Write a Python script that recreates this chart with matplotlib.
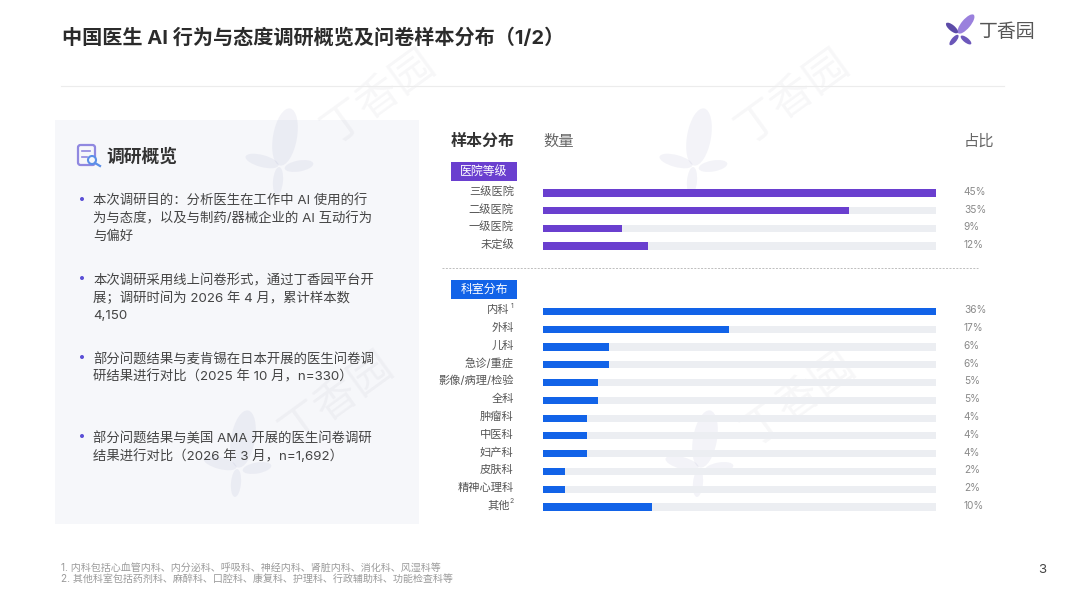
import matplotlib
matplotlib.use("Agg")
import matplotlib.pyplot as plt
from matplotlib.patches import Rectangle, Ellipse, FancyBboxPatch, Circle

plt.rcParams['font.family'] = ['Inter', 'Noto Sans CJK SC', 'DejaVu Sans']

# Data
title = "中国医生 AI 行为与态度调研概览及问卷样本分布（1/2）"
hospital_labels = ["三级医院", "二级医院", "一级医院", "未定级"]
hospital_values = [45, 35, 9, 12]
dept_labels = ["内科", "外科", "儿科", "急诊/重症", "影像/病理/检验", "全科",
               "肿瘤科", "中医科", "妇产科", "皮肤科", "精神心理科", "其他"]
dept_values = [36, 17, 6, 6, 5, 5, 4, 4, 4, 2, 2, 10]
dept_notes = {"内科": "1", "其他": "2"}
bullets = [
    ["本次调研目的：分析医生在工作中 AI 使用的行", "为与态度，以及与制药/器械企业的 AI 互动行为", "与偏好"],
    ["本次调研采用线上问卷形式，通过丁香园平台开", "展；调研时间为 2026 年 4 月，累计样本数", "4,150"],
    ["部分问题结果与麦肯锡在日本开展的医生问卷调", "研结果进行对比（2025 年 10 月，n=330）"],
    ["部分问题结果与美国 AMA 开展的医生问卷调研", "结果进行对比（2026 年 3 月，n=1,692）"],
]
notes = ["1. 内科包括心血管内科、内分泌科、呼吸科、神经内科、肾脏内科、消化科、风湿科等",
         "2. 其他科室包括药剂科、麻醉科、口腔科、康复科、护理科、行政辅助科、功能检查科等"]

W, H = 1067, 600
PURPLE = '#6a3fcf'
BLUE = '#1263e8'
TRACK = '#eceef2'

fig = plt.figure(figsize=(W / 100, H / 100), dpi=100, facecolor='white')

# Page layer in pixel coordinates
page = fig.add_axes([0, 0, 1, 1], zorder=0)
page.set_xlim(0, W)
page.set_ylim(H, 0)
page.axis('off')

page.add_patch(Rectangle((55, 120), 364, 404, facecolor='#f6f7fa', edgecolor='none'))


def leaves(x, y, shapes, z=1, alpha=1.0):
    for dx, dy, length, width, ang, c in shapes:
        page.add_patch(Ellipse((x + dx, y + dy), length, width, angle=ang,
                               facecolor=c, edgecolor='none', zorder=z, alpha=alpha))


# Watermarks
mark_color = '#5a5fa0'
mark = [(5, -28, 58, 24, -80, mark_color), (-18, -4, 34, 12, 15, mark_color),
        (19, 1, 29, 11, -10, mark_color), (-2, 16, 28, 10, -85, mark_color)]
for bx, by in [(280, 165), (694, 165), (238, 467), (700, 467)]:
    leaves(bx, by, mark, alpha=0.07)
    page.text(bx + 99, by - 68, "丁香园", fontsize=31, color='#404060', alpha=0.045, rotation=36,
              ha='center', va='center', fontweight='light', zorder=1)

# Header
page.text(62, 37.5, title, fontsize=14.5, fontweight='bold', color='#2b2b2b', va='center', zorder=3)
page.plot([61, 1004], [86, 86], color='#ececec', lw=0.8, zorder=3)
logo = [(8, -9, 24, 9, -50, '#9a80dd'), (-6, -5, 15, 6, 40, '#5c4ba8'),
        (-4, 7, 13, 5, -50, '#6a56b8'), (8, 7, 13, 5, 38, '#6d58bb')]
leaves(958, 33, logo, z=3)
page.text(979, 32, "丁香园", fontsize=13.6, color='#555555', va='center', fontweight='light', zorder=3)
page.text(1042, 570, "3", fontsize=9.5, color='#444444', ha='center', va='center', zorder=3)

# Overview panel
page.add_patch(FancyBboxPatch((78, 145), 17, 20, boxstyle="round,pad=0,rounding_size=2.5",
                              facecolor='none', edgecolor='#9088e0', lw=1.6, zorder=3))
page.plot([82, 90], [151, 151], color='#9088e0', lw=1.2, zorder=3)
page.plot([82, 87], [157, 157], color='#9088e0', lw=1.2, zorder=3)
page.add_patch(Circle((92, 160), 4, facecolor='#f6f7fa', edgecolor='#5b8fe8', lw=1.5, zorder=4))
page.plot([95, 100], [163, 166], color='#5b8fe8', lw=1.6, zorder=4)
page.text(106, 157.5, "调研概览", fontsize=12.8, fontweight='bold', color='#333333', va='center', zorder=3)

bullet_tops = [201.5, 280.5, 359.5, 438.5]
for top, lines in zip(bullet_tops, bullets):
    page.add_patch(Circle((82, top - 2.5), 2, facecolor='#5b4fd6', edgecolor='none', zorder=3))
    for i, line in enumerate(lines):
        page.text(93, top + i * 17.7, line, fontsize=9.6, color='#444444', va='center', zorder=3)

# Footnotes
for y, line in zip([567.5, 578.5], notes):
    page.text(61, y, line, fontsize=7.22, color='#9a9a9a', va='center', zorder=3)

# Right column headings
page.text(451, 141, "样本分布", fontsize=11.5, fontweight='bold', color='#333333', va='center', zorder=3)
page.text(543, 141, "数量", fontsize=11, color='#666666', va='center', zorder=3)
page.text(964, 141, "占比", fontsize=11, color='#666666', va='center', zorder=3)

for y0, h, color, name in [(162, 19, PURPLE, "医院等级"), (280, 18.5, BLUE, "科室分布")]:
    page.add_patch(Rectangle((451, y0), 66, h, facecolor=color, edgecolor='none', zorder=3))
    page.text(484, y0 + h / 2 + 0.5, name, fontsize=8.6, color='white', ha='center', va='center', zorder=4)
page.plot([442, 978], [268, 268], color='#bdbdbd', lw=0.7, ls=(0, (2, 1.5)), zorder=3)


def bar_panel(y_top, y_bottom, labels, values, color, notes_map=None):
    ax = fig.add_axes([543 / W, 1 - y_bottom / H, 393 / W, (y_bottom - y_top) / H], zorder=2)
    ax.patch.set_alpha(0)
    rows = range(len(labels))
    top = max(values)
    ax.barh(rows, [top] * len(labels), height=0.4, color=TRACK)
    ax.barh(rows, values, height=0.4, color=color)
    ax.set_xlim(0, top)
    ax.set_ylim(len(labels) - 0.5, -0.5)
    ax.axis('off')
    trans = ax.get_yaxis_transform()
    for i, (name, v) in enumerate(zip(labels, values)):
        ax.annotate(f"{v}%", (0, i), xycoords=trans, xytext=(303, 0.8), textcoords='offset points',
                    fontsize=7.3, color='#8a8a8a', va='center', annotation_clip=False)
        gap = -21
        if notes_map and name in notes_map:
            # footnote mark goes right of the label, so the label moves left
            ax.annotate(notes_map[name], (0, i), xycoords=trans, xytext=(gap, 4), textcoords='offset points',
                        fontsize=5, color='#555555', ha='right', va='center', annotation_clip=False)
            gap = -24
        ax.annotate(name, (0, i), xycoords=trans, xytext=(gap, 1), textcoords='offset points',
                    fontsize=8.1, color='#555555', ha='right', va='center', annotation_clip=False)
    return ax


bar_panel(184.2, 254.8, hospital_labels, hospital_values, PURPLE)
bar_panel(302.6, 515.9, dept_labels, dept_values, BLUE, dept_notes)

fig.savefig("out.png", dpi=100)
